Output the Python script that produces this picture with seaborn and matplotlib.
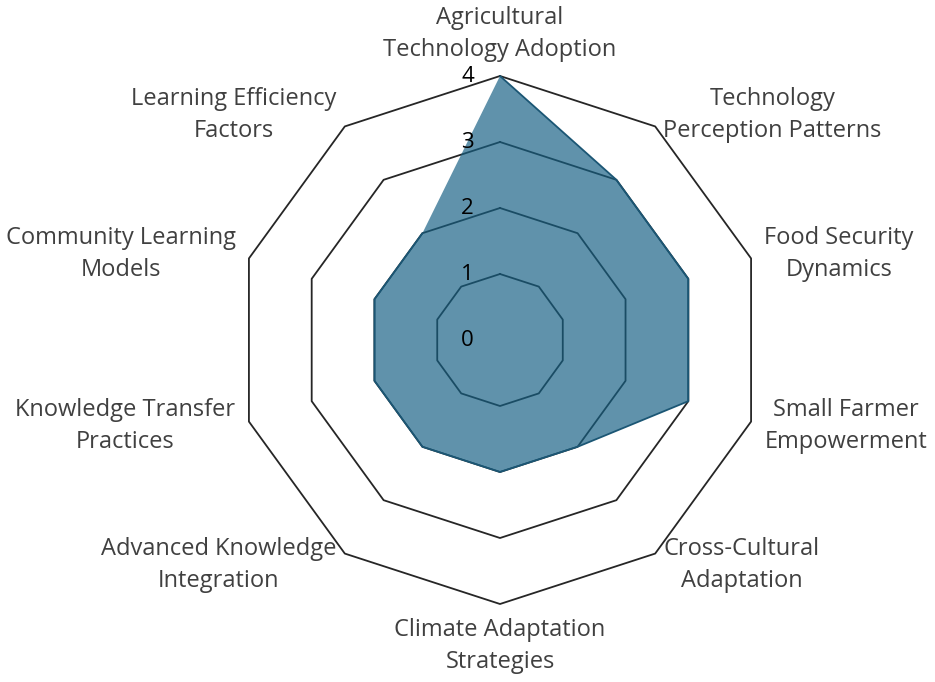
import numpy as np
import matplotlib.pyplot as plt
import seaborn as sns

# Données du graphique radar
categories = [
    "Agricultural\nTechnology Adoption",
    "Technology\nPerception Patterns",
    "Food Security\nDynamics",
    "Small Farmer\nEmpowerment",
    "Cross-Cultural\nAdaptation",
    "Climate Adaptation\nStrategies",
    "Advanced Knowledge\nIntegration",
    "Knowledge Transfer\nPractices",
    "Community Learning\nModels",
    "Learning Efficiency\nFactors",
]
scores = [4, 3, 3, 3, 2, 2, 2, 2, 2, 2]
levels = [0, 1, 2, 3, 4]

sns.set_theme(style="white")
plt.rcParams['font.family'] = ['Open Sans', 'DejaVu Sans']

n = len(categories)
angles = np.arange(n) * 2 * np.pi / n  # sens horaire depuis le haut

def to_xy(r, a):
    return r * np.sin(a), r * np.cos(a)

unit = 66.0  # pixels par unité
fig = plt.figure(figsize=(9.35, 6.82), dpi=100)
ax = fig.add_axes([0, 0, 1, 1])
ax.set_xlim(-500 / unit, 435 / unit)
ax.set_ylim(-342 / unit, 340 / unit)
ax.axis('off')

# Grille polygonale
closed = np.append(angles, angles[0])
for lv in levels[1:]:
    gx, gy = to_xy(lv, closed)
    ax.plot(gx, gy, color='#262626', lw=1.3, zorder=1)

# Série
vals = np.append(scores, scores[0])
sx, sy = to_xy(vals, closed)
ax.fill(sx, sy, color='#155f83', alpha=0.68, lw=0, zorder=2)
sns.lineplot(x=sx, y=sy, sort=False, ax=ax, color='#1b5674', lw=1.3, zorder=3)

# Étiquettes de graduation
for lv in levels:
    ax.text(-26 / unit, lv, str(lv), ha='right', va='center',
            fontsize=16, color='black', zorder=4)

# Étiquettes des catégories
r_lab = max(levels) + 14 / unit
for cat, a in zip(categories, angles):
    lx, ly = to_xy(r_lab, a)
    s = np.sin(a)
    if abs(s) < 1e-6:
        ha = 'center'
        va = 'bottom' if np.cos(a) > 0 else 'top'
    else:
        ha = 'left' if s > 0 else 'right'
        va = 'center'
    ax.text(lx, ly, cat, ha=ha, va=va, multialignment='center',
            fontsize=17, color='#404040', linespacing=1.45, zorder=4)

plt.savefig('out.png', dpi=100)
plt.close()
